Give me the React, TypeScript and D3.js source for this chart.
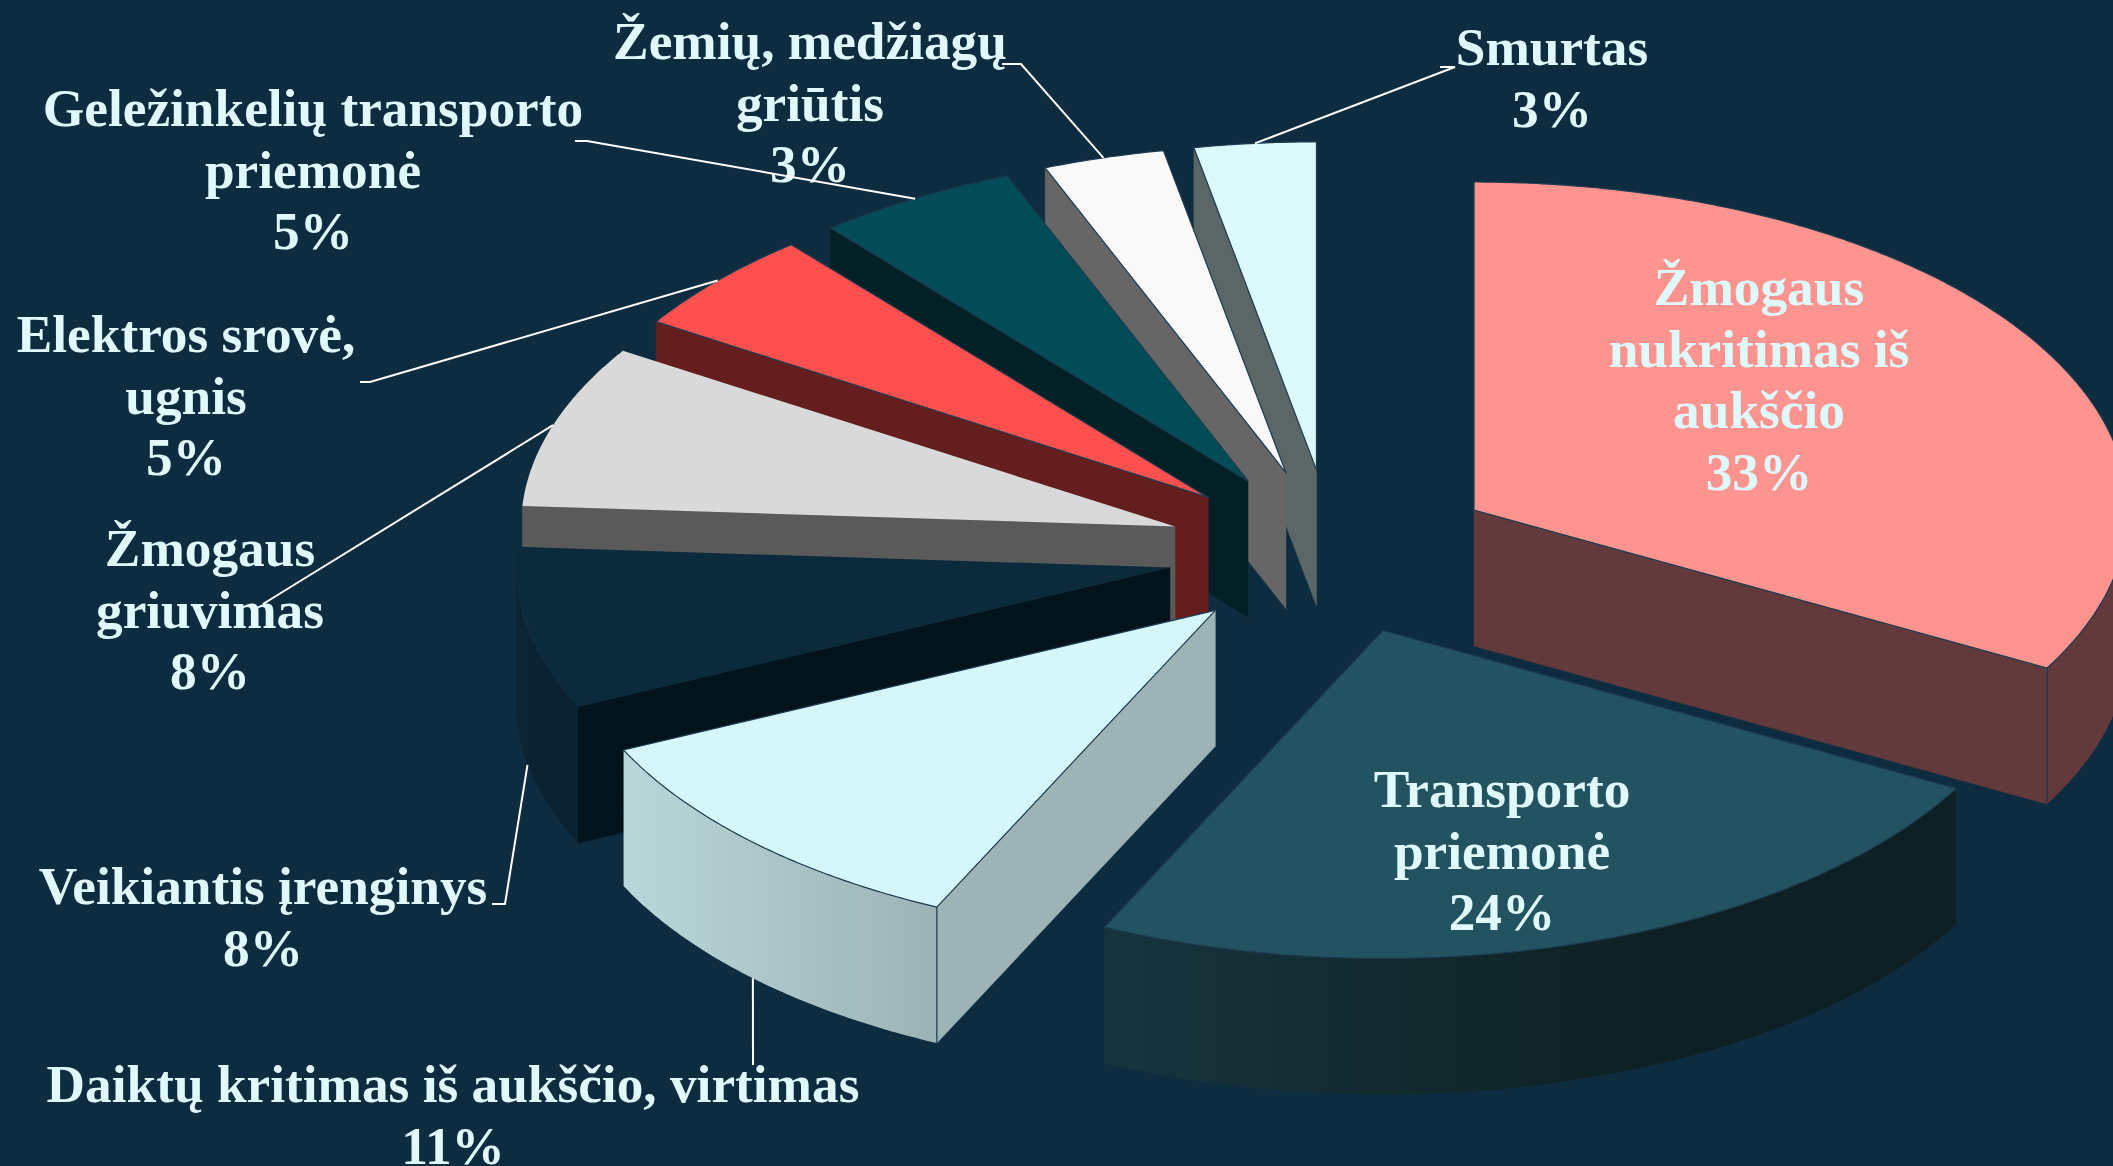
import React from "react";
import * as d3 from "d3";

// ---- data ----
const categories = [
  "Žmogaus nukritimas iš aukščio",
  "Transporto priemonė",
  "Daiktų kritimas iš aukščio, virtimas",
  "Veikiantis įrenginys",
  "Žmogaus griuvimas",
  "Elektros srovė, ugnis",
  "Geležinkelių transporto priemonė",
  "Žemių, medžiagų griūtis",
  "Smurtas",
];
const values = [33, 24, 11, 8, 8, 5, 5, 3, 3];
const faceColors = ["#fd9490", "#235360", "#d5f7fa", "#0b2a3c", "#d9d9d9", "#ff5050", "#024c58", "#f9f9f9", "#dcf9fb"];
const wallColors = ["#633a3c", "#0e2023", "#9cb4b6", "#03131b", "#5a5a5a", "#651e1e", "#022126", "#666666", "#5b6666"];
const rimFrom = ["#633a3c", "#16343d", "#b8d7da", "#0a2433", "#5a5a5a", "#651e1e", "#022126", "#666666", "#5b6666"];
const rimTo = ["#633a3c", "#0e2023", "#9cb3b5", "#0a2230", "#5a5a5a", "#651e1e", "#022126", "#666666", "#5b6666"];
const rimStop = [1, 0.65, 1, 1, 1, 1, 1, 1, 1];
const labelLines = [
  ["Žmogaus", "nukritimas iš", "aukščio", "33%"],
  ["Transporto", "priemonė", "24%"],
  ["Daiktų kritimas iš aukščio, virtimas", "11%"],
  ["Veikiantis įrenginys", "8%"],
  ["Žmogaus", "griuvimas", "8%"],
  ["Elektros srovė,", "ugnis", "5%"],
  ["Geležinkelių transporto", "priemonė", "5%"],
  ["Žemių, medžiagų", "griūtis", "3%"],
  ["Smurtas", "3%"],
];

// ---- layout ----
const W = 2113, H = 1166;
const BG = "#0e2c40";
const CX = 1332, CY = 552, RX = 654, RY = 328, DEPTH = 136, EXPLODE = 165;
const EDGE = "#1d3b50";
const TEXT = "#dff9fc";
const FONT_SIZE = 53.3;
const LINE_H = 61.5;
const labelX = [1759, 1502, 453, 263, 210, 186, 313, 810, 1552];
const labelY = [305, 807, 1102, 904, 566, 352, 126, 59, 65];
// leader elbows (label side); the last point is computed on the slice
const leaderElbows: number[][][] = [
  [],
  [],
  [[753, 1065]],
  [[492, 904], [505, 904]],
  [[263, 604]],
  [[360, 382], [370, 382]],
  [[575, 141], [587, 141]],
  [[1002, 64], [1021, 64]],
  [[1440, 67], [1455, 67]],
];
const drawOrder = [8, 7, 6, 5, 4, 3, 2, 0, 1];

const TAU = Math.PI * 2;
const arcs = d3.pie<number>().sort(null).startAngle(0).endAngle(TAU)(values);
const line = d3.line();

function geometry(i: number) {
  const a = arcs[i];
  const mid = (a.startAngle + a.endAngle) / 2;
  const ax = CX + EXPLODE * Math.sin(mid);
  const ay = CY - (EXPLODE * Math.cos(mid)) / 2;
  const p = (t: number, dz = 0): [number, number] => [ax + RX * Math.sin(t), ay - RY * Math.cos(t) + dz];
  const sample = (t0: number, t1: number) => {
    const n = Math.max(2, Math.ceil(((t1 - t0) * 180) / Math.PI) * 2);
    return d3.range(n + 1).map((k) => t0 + ((t1 - t0) * k) / n);
  };
  return { a, mid, ax, ay, p, sample };
}

function Slice({ i }: { i: number }) {
  const { a, ax, ay, p, sample } = geometry(i);
  const s = a.startAngle, e = a.endAngle;
  const face = line([[ax, ay], ...sample(s, e).map((t) => p(t))]) + "Z";
  const parts: React.ReactNode[] = [];
  const quad = (t: number, key: string) => {
    const d = line([[ax, ay], p(t), p(t, DEPTH), [ax, ay + DEPTH]]) + "Z";
    parts.push(<path key={key} d={d} fill={wallColors[i]} stroke={wallColors[i]} strokeWidth={0.5} />);
  };
  if (Math.sin(s) < -1e-6) quad(s, "s");
  if (Math.sin(e) > 1e-6) quad(e, "e");
  const r0 = Math.max(s, Math.PI / 2), r1 = Math.min(e, (3 * Math.PI) / 2);
  let gradient: React.ReactNode = null;
  if (r1 > r0) {
    const top = sample(r0, r1).map((t) => p(t));
    const bottom = sample(r0, r1).reverse().map((t) => p(t, DEPTH));
    const xs = top.map((q) => q[0]);
    const id = "rim" + i;
    gradient = (
      <linearGradient id={id} gradientUnits="userSpaceOnUse" x1={d3.min(xs)} x2={d3.max(xs)} y1={0} y2={0}>
        <stop offset="0" stopColor={rimFrom[i]} />
        <stop offset={rimStop[i]} stopColor={rimTo[i]} />
        <stop offset="1" stopColor={rimTo[i]} />
      </linearGradient>
    );
    parts.push(<path key="r" d={line([...top, ...bottom]) + "Z"} fill={`url(#${id})`} />);
  }
  const seams: React.ReactNode[] = [];
  if (r1 > r0 && Math.sin(e) > 1e-6 && i === 0) {
    const [x, y] = p(e);
    seams.push(<line key="q" x1={x} y1={y} x2={x} y2={y + DEPTH} stroke={EDGE} strokeWidth={1.2} />);
  }
  if (i === 2) {
    const [x, y] = p(s);
    seams.push(<line key="q" x1={x} y1={y} x2={x} y2={y + DEPTH} stroke={EDGE} strokeWidth={1.2} />);
  }
  const strokeFace = i === 3 || i === 4 ? "none" : EDGE;
  return (
    <g>
      <defs>{gradient}</defs>
      {parts}
      {seams}
      <path d={face} fill={faceColors[i]} stroke={strokeFace} strokeWidth={1.2} strokeLinejoin="round" />
    </g>
  );
}

function leaderPath(i: number) {
  const elbows = leaderElbows[i];
  if (!elbows.length) return null;
  const { mid, p } = geometry(i);
  const front = Math.cos(mid) < 0;
  const anchor = p(mid, front ? DEPTH : 0);
  return line([...(elbows as [number, number][]), anchor]);
}

export default function App() {
  return (
    <svg
      width={W}
      height={H}
      viewBox={`0 0 ${W} ${H}`}
      style={{ position: "fixed", left: 0, top: 0, display: "block" }}
      fontFamily="'Liberation Serif', 'Times New Roman', serif"
    >
      <title>{categories.join(", ")}</title>
      <rect width={W} height={H} fill={BG} />
      {drawOrder.map((i) => (
        <Slice key={i} i={i} />
      ))}
      {labelLines.map((ls, i) => (
        <text key={i} x={labelX[i]} y={labelY[i]} textAnchor="middle" fontWeight="bold" fontSize={FONT_SIZE} fill={TEXT}>
          {ls.map((t, k) => (
            <tspan key={k} x={labelX[i]} y={labelY[i] + k * LINE_H}>
              {t}
            </tspan>
          ))}
        </text>
      ))}
      {labelLines.map((_, i) => {
        const d = leaderPath(i);
        return d ? <path key={i} d={d} fill="none" stroke="#ffffff" strokeWidth={2} /> : null;
      })}
    </svg>
  );
}
